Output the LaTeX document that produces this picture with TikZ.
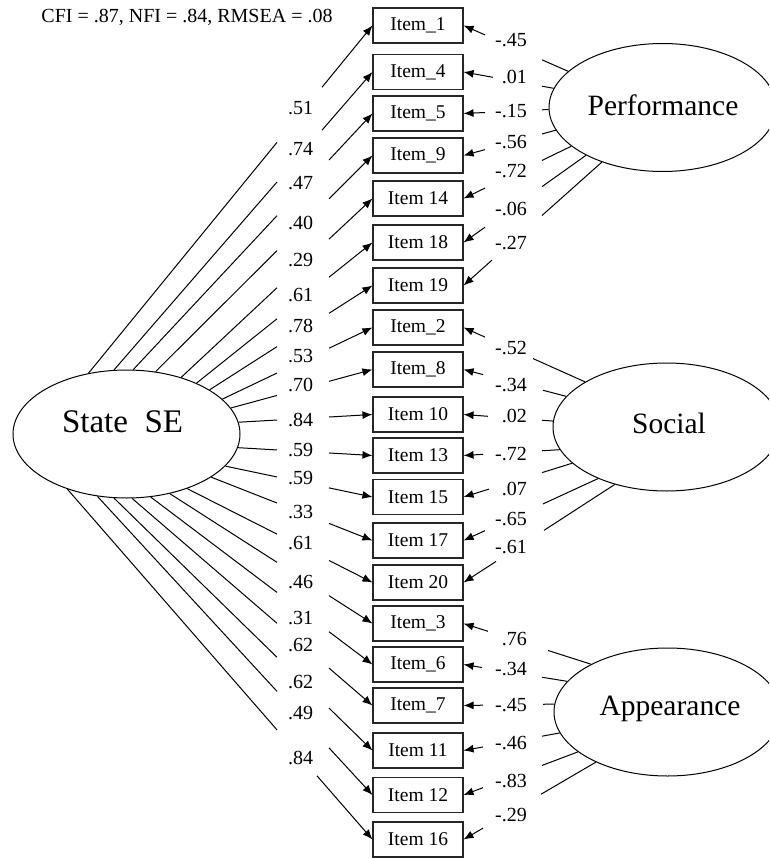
\documentclass[tikz,border=0pt]{standalone}
\usepackage{fontspec}
\setmainfont{Liberation Serif}
\usetikzlibrary{shapes.geometric,arrows.meta,calc}
\begin{document}
\begin{tikzpicture}[x=1pt,y=-1pt,
  itembox/.style={draw=black!85, line width=1.1pt, minimum width=90pt, minimum height=35pt, inner sep=0pt, font=\fontsize{19.5}{22}\selectfont},
  factor/.style={draw, ellipse, line width=1pt, minimum width=227pt, minimum height=128pt, inner sep=0pt},
  facttext/.style={inner sep=0pt, font=\fontsize{29.5}{32}\selectfont},
  lbl/.style={inner sep=0pt, font=\fontsize{20}{22}\selectfont},
  conn/.style={line width=1pt},
  arr/.style={line width=1pt, -{Latex[length=10pt,width=8pt]}}
]
\useasboundingbox (0,0) rectangle (769,859);
\clip (0,0) rectangle (769,859);

\node[lbl] (fit) at (187,17) {CFI = .87, NFI = .84, RMSEA = .08};

% latent factors
\node[factor] (SE) at (126.5,434) {};
\node[inner sep=0pt, font=\fontsize{33}{36}\selectfont] (SEt) at (122.5,422) {State\ \ SE};
\node[factor] (PF) at (662.5,107.5) {};
\node[facttext] (PFt) at (663,105) {Performance};
\node[factor] (SO) at (666.5,427) {};
\node[facttext] (SOt) at (669,423) {Social};
\node[factor] (AP) at (667.5,712) {};
\node[facttext] (APt) at (670,709) {Appearance};

% items
\node[itembox] (i1)  at (418,25.5)  {Item\_1};
\node[itembox] (i4)  at (418,72)    {Item\_4};
\node[itembox] (i5)  at (418,113.5) {Item\_5};
\node[itembox] (i9)  at (418,155.5) {Item\_9};
\node[itembox] (i14) at (418,198.5) {Item 14};
\node[itembox] (i18) at (418,242.5) {Item 18};
\node[itembox] (i19) at (418,285.5) {Item 19};
\node[itembox] (i2)  at (418,327.5) {Item\_2};
\node[itembox] (i8)  at (418,369.5) {Item\_8};
\node[itembox] (i10) at (418,414.5) {Item 10};
\node[itembox] (i13) at (418,455.5) {Item 13};
\node[itembox] (i15) at (418,497)   {Item 15};
\node[itembox] (i17) at (418,540.5) {Item 17};
\node[itembox] (i20) at (418,582.5) {Item 20};
\node[itembox] (i3)  at (418,623.5) {Item\_3};
\node[itembox] (i6)  at (418,664.5) {Item\_6};
\node[itembox] (i7)  at (418,705.5) {Item\_7};
\node[itembox] (i11) at (418,750.5) {Item 11};
\node[itembox] (i12) at (418,795)   {Item 12};
\node[itembox] (i16) at (418,839.5) {Item 16};

% State SE paths, broken around the labels
\foreach \a/\m/\xe in {122.3/i1/322, 101.7/i4/322, 84.3/i5/329, 65.7/i9/329, 46.3/i14/329,
  36.5/i18/329, 28.5/i19/329, 20.6/i2/329, 14.4/i8/329, 6/i10/329, 353/i13/329,
  342.9/i15/329, 333.6/i17/329, 318.6/i20/329, 306/i3/329, 291.7/i6/329, 275.8/i7/329,
  259.8/i11/329, 245.3/i12/329, 223.7/i16/317}{
  \draw[conn] let \p1=(SE.\a), \p2=(\m.west) in
    (\p1) -- ($(\p1)!{scalar((277-\x1)/(\x2-\x1))}!(\p2)$);
  \draw[arr] let \p1=(SE.\a), \p2=(\m.west) in
    ($(\p1)!{scalar((\xe-\x1)/(\x2-\x1))}!(\p2)$) -- (\p2);
}

% specific factor paths
\foreach \f/\a/\m/\xs/\xe in {PF/159.4/i1/485/542, PF/170.4/i4/493/542, PF/181.8/i5/485/542,
  PF/192.3/i9/485/542, PF/203.6/i14/485/542, PF/212.9/i18/485/542, PF/222.2/i19/492/542,
  SO/151.2/i2/485/533, SO/163.5/i8/483/543, SO/177.5/i10/488/542, SO/192.3/i13/483/542,
  SO/201.6/i15/489/542, SO/217.6/i17/485/543, SO/228.1/i20/496/544,
  AP/148/i3/488/548, AP/163.5/i6/482/542, AP/176.5/i7/483/543, AP/191.7/i11/483/542,
  AP/204.3/i12/483/542, AP/215.9/i16/483/541}{
  \draw[conn] let \p1=(\f.\a), \p2=(\m.east) in
    (\p1) -- ($(\p1)!{scalar((\x1-\xe)/(\x1-\x2))}!(\p2)$);
  \draw[arr] let \p1=(\f.\a), \p2=(\m.east) in
    ($(\p1)!{scalar((\x1-\xs)/(\x1-\x2))}!(\p2)$) -- (\p2);
}

% State SE loadings
\foreach \t/\yy [count=\k] in {.51/108, .74/149, .47/183, .40/223, .29/260, .61/295, .78/326,
  .53/356, .70/385, .84/420, .59/450, .59/478, .33/512, .61/543, .46/582, .31/618,
  .62/645, .62/682, .49/713, .84/758}{
  \node[lbl] (L\k) at (300.5,\yy) {\t};
}

% specific loadings
\foreach \t/\yy [count=\k] in {-.45/40, .01/77, -.15/111, -.56/142, -.72/171, -.06/209, -.27/243,
  -.52/348, -.34/385, .02/416, -.72/454, .07/489, -.65/519, -.61/547,
  .76/639, -.34/669, -.45/705, -.46/743, -.83/781, -.29/815}{
  \node[lbl, anchor=east] (R\k) at (527,\yy) {\t};
}
\end{tikzpicture}
\end{document}
